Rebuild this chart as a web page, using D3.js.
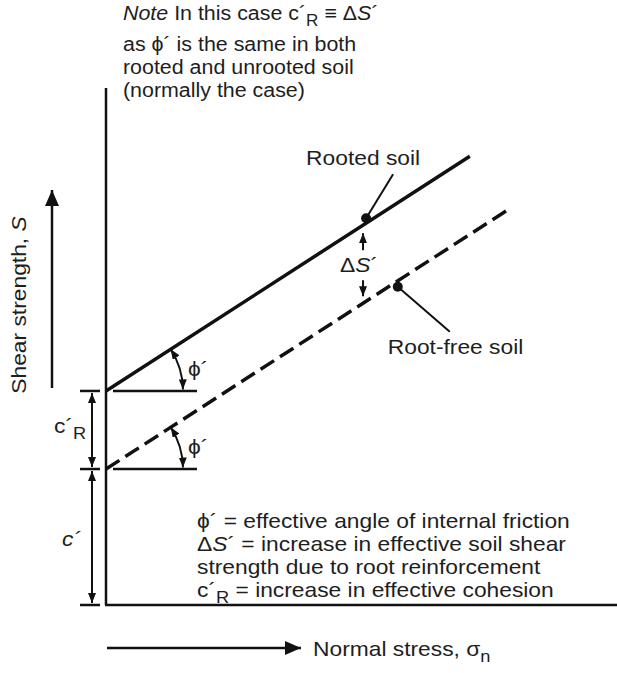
<!DOCTYPE html>
<html><head><meta charset="utf-8">
<script src="https://cdn.jsdelivr.net/npm/d3@7"></script>
<style>
body{margin:0;background:#fff}
text{font-family:"Liberation Sans",Arial,Helvetica,sans-serif;fill:#1e1e1e;font-size:20px}
</style>
</head><body>
<svg id="c" width="617" height="673"></svg>
<script>
// ---- data ----
const xDomain = [0, 10];
const yDomain = [0, 10];
const cPrime = 2.63;          // effective cohesion of root-free soil
const cRoot = 1.51;           // increase in cohesion due to roots
const tanPhi = 0.6375;        // slope of failure envelopes
const soils = ["Rooted soil", "Root-free soil"];
const intercepts = [cPrime + cRoot, cPrime];
const lineEnds = [7.12, 7.87];
const dotX = [5.09, 5.71];
const deltaX = 5.03;
const noteLines = [
  [["Note","i"],[" In this case c´",""],["R","sub"],[" ≡ Δ",""],["S","i"],["´",""]],
  [["as ϕ´ is the same in both",""]],
  [["rooted and unrooted soil",""]],
  [["(normally the case)",""]]
];
const legendLines = [
  [["ϕ´ = effective angle of internal friction",""]],
  [["Δ",""],["S","i"],["´ = increase in effective soil shear",""]],
  [["strength due to root reinforcement",""]],
  [["c´",""],["R","sub"],[" = increase in effective cohesion",""]]
];
const yTitle = [["Shear strength, ",""],["S","i"]];
const xTitle = [["Normal stress, σ",""],["n","sub"]];
const phiLabel = [["ϕ",""],["´",""]];

// ---- drawing ----
const svg = d3.select("#c");
const x = d3.scaleLinear().domain(xDomain).range([106, 617]);
const y = d3.scaleLinear().domain(yDomain).range([605, 88]);
const K = "#111";
const SX = 1.14;   // horizontal stretch of the lettering

const defs = svg.append("defs");
function marker(id, len, wid) {
  defs.append("marker").attr("id", id).attr("viewBox", `0 0 ${len} ${wid}`)
    .attr("refX", len).attr("refY", wid/2).attr("markerWidth", len).attr("markerHeight", wid)
    .attr("markerUnits", "userSpaceOnUse").attr("orient", "auto-start-reverse")
    .append("path").attr("d", `M0,0L${len},${wid/2}L0,${wid}Z`).attr("fill", K);
}
marker("big", 16, 14);
marker("small", 10, 8);

function richText(g, segs, px, py, opts = {}) {
  const sx = opts.sx || SX;
  const t = g.append("text").attr("x", 0).attr("y", 0)
    .attr("transform", `translate(${px},${py})${opts.rotate ? " rotate(-90)" : ""} scale(${sx},1)`);
  if (opts.anchor) t.attr("text-anchor", opts.anchor);
  if (opts.italic) t.style("font-style", "italic");
  let shift = 0;
  segs.forEach(([s, st]) => {
    const ts = t.append("tspan").text(s);
    if (st === "i") ts.style("font-style", "italic");
    if (st === "sub") { ts.attr("dy", 6 - shift).style("font-size", "0.8em"); shift = 6; }
    else if (shift) { ts.attr("dy", -shift); shift = 0; }
  });
  return t;
}

// axes
svg.append("line").attr("x1", x(0)).attr("x2", x(0)).attr("y1", y(0)).attr("y2", y(10))
  .attr("stroke", K).attr("stroke-width", 2.5);
svg.append("line").attr("x1", x(0) - 1).attr("x2", x(10)).attr("y1", y(0)).attr("y2", y(0))
  .attr("stroke", K).attr("stroke-width", 2.5);

// failure envelopes
soils.forEach((s, i) => {
  svg.append("line")
    .attr("x1", x(0)).attr("y1", y(intercepts[i]))
    .attr("x2", x(lineEnds[i])).attr("y2", y(intercepts[i] + tanPhi * lineEnds[i]))
    .attr("stroke", K).attr("stroke-width", 3.5)
    .attr("stroke-dasharray", i === 1 ? "16,7" : null);
});

// horizontal reference lines and left ticks
[intercepts[0], intercepts[1]].forEach(v => {
  svg.append("line").attr("x1", x(0) + 7).attr("x2", x(0) + 91).attr("y1", y(v)).attr("y2", y(v))
    .attr("stroke", K).attr("stroke-width", 2.5);
});
[intercepts[0], intercepts[1], 0].forEach(v => {
  svg.append("line").attr("x1", x(0) - 26).attr("x2", x(0) - 6).attr("y1", y(v)).attr("y2", y(v))
    .attr("stroke", K).attr("stroke-width", 2.5);
});

// left dimension arrows
const ax = x(0) - 14;
[[intercepts[0], intercepts[1]], [intercepts[1], 0]].forEach(([a, b]) => {
  svg.append("line").attr("x1", ax).attr("x2", ax).attr("y1", y(a) + 2).attr("y2", y(b) - 2)
    .attr("stroke", K).attr("stroke-width", 2)
    .attr("marker-start", "url(#small)").attr("marker-end", "url(#small)");
});
richText(svg, [["c´",""],["R","sub"]], 54, (y(intercepts[0]) + y(intercepts[1])) / 2 + 3);
richText(svg, [["c´",""]], 62, (y(intercepts[1]) + y(0)) / 2 + 9, {italic: true});

// angle arcs
const theta = Math.atan2(y(0) - y(tanPhi), x(1) - x(0));
intercepts.forEach(v => {
  const cx = x(0), cy = y(v), r = 77;
  const p = d3.path();
  p.moveTo(cx + r * Math.cos(-theta) , cy + r * Math.sin(-theta));
  p.arc(cx, cy, r, -theta, -0.02);
  svg.append("path").attr("d", p.toString()).attr("fill", "none").attr("stroke", K)
    .attr("stroke-width", 2).attr("marker-start", "url(#small)").attr("marker-end", "url(#small)");
  richText(svg, phiLabel, cx + 82, cy - 15);
});

// dots with leaders and labels
const dotOff = [-5, 6];
const leadOff = [[27, -44], [52, 45]];
const labOff = [[-60, -53], [-10, 67]];
soils.forEach((s, i) => {
  const dx = x(dotX[i]), dy = y(intercepts[i] + tanPhi * dotX[i]) + dotOff[i];
  svg.append("line").attr("x1", dx).attr("y1", dy)
    .attr("x2", dx + leadOff[i][0]).attr("y2", dy + leadOff[i][1])
    .attr("stroke", K).attr("stroke-width", 2);
  svg.append("circle").attr("cx", dx).attr("cy", dy).attr("r", 5).attr("fill", K);
  richText(svg, [[s, ""]], dx + labOff[i][0], dy + labOff[i][1]);
});

// ΔS' arrows
const dX = x(deltaX);
const yTop = y(intercepts[0] + tanPhi * deltaX), yBot = y(intercepts[1] + tanPhi * deltaX);
const mid = (yTop + yBot) / 2;
svg.append("line").attr("x1", dX).attr("x2", dX).attr("y1", mid - 14).attr("y2", yTop + 8)
  .attr("stroke", K).attr("stroke-width", 2).attr("marker-end", "url(#small)");
svg.append("line").attr("x1", dX).attr("x2", dX).attr("y1", mid + 16).attr("y2", yBot - 7)
  .attr("stroke", K).attr("stroke-width", 2).attr("marker-end", "url(#small)");
richText(svg, [["Δ",""],["S","i"],["´",""]], dX - 4, mid + 8, {anchor: "middle"});

// note text
noteLines.forEach((ln, i) => richText(svg, ln, 123, [20, 51, 74, 97][i], {sx: 1.07}));
// legend text
legendLines.forEach((ln, i) => richText(svg, ln, 197, 528 + i * 23));

// axis titles with arrows
svg.append("line").attr("x1", 52).attr("x2", 52).attr("y1", 388).attr("y2", 190)
  .attr("stroke", K).attr("stroke-width", 2.5).attr("marker-end", "url(#big)");
richText(svg, yTitle, 26, 305, {anchor: "middle", rotate: true});
svg.append("line").attr("x1", 107).attr("x2", 301).attr("y1", 648).attr("y2", 648)
  .attr("stroke", K).attr("stroke-width", 2.5).attr("marker-end", "url(#big)");
richText(svg, xTitle, 313, 656);
</script>
</body></html>
